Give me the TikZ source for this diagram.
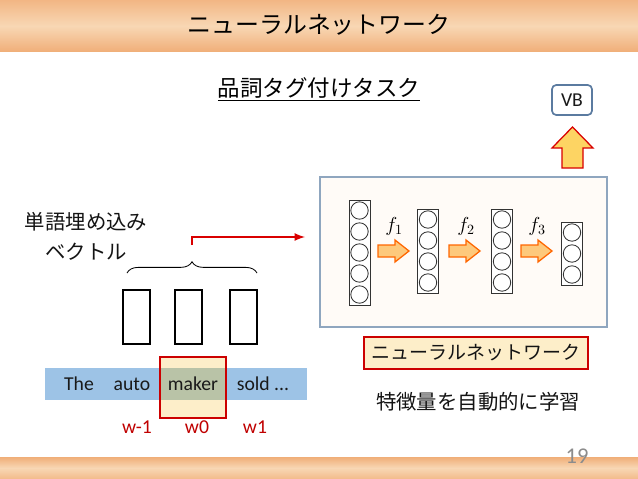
\documentclass[tikz,border=0pt]{standalone}
\usepackage{fontspec}
\setmainfont{Carlito}
\newfontfamily\jp{Noto Sans CJK JP}
\usetikzlibrary{decorations.pathreplacing}
\definecolor{bandlight}{HTML}{F8D7B4}
\definecolor{banddark}{HTML}{F0AE78}
\definecolor{barblue}{HTML}{9DC3E6}
\definecolor{wred}{HTML}{C00000}
\definecolor{boxline}{HTML}{8FA6BF}
\definecolor{vbline}{HTML}{5B7BA0}
\definecolor{arrowfill}{HTML}{FDC97C}
\definecolor{paleyellow}{HTML}{FDEEC9}
\definecolor{overlaygreen}{HTML}{B9C3A7}
\tikzset{
  jptext/.style={font=\jp\fontsize{14.5pt}{17pt}\selectfont, text=black!92},
  wordtext/.style={font=\fontsize{14pt}{16pt}\selectfont, text=black!90},
  idxtext/.style={font=\fontsize{14pt}{16pt}\selectfont, text=wred},
  fatarrow/.style={fill=arrowfill, draw=orange!80!red, line width=0.9pt, line join=miter},
  neuron/.style={draw=black!80, line width=0.6pt}
}
% a column of n neurons, top edge at y
\def\neuroncol(#1,#2,#3){\draw[neuron, fill=white] (#1-10.5,#2) rectangle (#1+10.5,#2+21*#3);
  \foreach \k in {1,...,#3} \draw[neuron] (#1,#2-10.5+21*\k) circle [radius=6.2pt];}
% fat arrow pointing right, left end at x, middle at y
\def\rightfat(#1,#2){\draw[fatarrow] (#1,#2-6) -- ++(17,0) -- ++(0,-5) -- ++(14,11) -- ++(-14,11) -- ++(0,-5) -- ++(-17,0) -- cycle;}

\begin{document}
\begin{tikzpicture}[x=0.025cm, y=-0.025cm]
		%%%%% START %%%%%
		\useasboundingbox (0, 0) rectangle (638, 479);
		\fill[white] (0, 0) rectangle (638, 479);
		
		% bands
		\shade[top color=banddark!80!bandlight, bottom color=banddark, middle color=bandlight] (0, 0) rectangle (638, 52);
		\shade[top color=banddark, bottom color=banddark!70!bandlight, middle color=bandlight] (0, 457) rectangle (638, 479);
		\node (title) at (319, 25) {\jp\fontsize{17pt}{20pt}\selectfont ニューラルネットワーク};
		\node[text=black!45, font=\fontsize{16pt}{18pt}\selectfont] (pagenum) at (577, 456) {19};
		
		\node[font=\jp\fontsize{16pt}{19pt}\selectfont, inner sep=1pt] (task) at (319, 89) {\underline{品詞タグ付けタスク}};
		
		% output
		\draw[vbline, line width=1.2pt, fill=white, rounded corners=3pt] (552, 85) rectangle (592, 115);
		\node[wordtext] (vb) at (572, 100) {VB};
		\draw[fill=arrowfill!80!yellow, draw=red!85!black, line width=0.9pt] (572.5, 127) -- (593, 148) -- (583, 148) -- (583, 168) -- (562, 168) -- (562, 148) -- (552, 148) -- cycle;
		
		% network
		\draw[boxline, line width=1.3pt, fill=orange!3] (320, 177) rectangle (607, 327);
		\neuroncol(359.5, 200, 5);
		\neuroncol(428, 209, 4);
		\neuroncol(502, 209, 4);
		\neuroncol(572, 222, 3);
		\rightfat(378, 251);
		\rightfat(449, 251);
		\rightfat(521, 251);
		\node (f1) at (394, 226) {\Large $f_1$};
		\node (f2) at (466, 226) {\Large $f_2$};
		\node (f3) at (537, 226) {\Large $f_3$};
		
		\draw[draw=red!80!black, line width=1pt, fill=paleyellow] (364, 337) rectangle (588, 369);
		\node[jptext, font=\jp\fontsize{13.5pt}{16pt}\selectfont] (nnlabel) at (476, 353) {ニューラルネットワーク};
		\node[jptext] (learn) at (478, 402) {特徴量を自動的に学習};
		
		% embeddings
		\node[jptext] (emb1) at (86, 222) {単語埋め込み};
		\node[jptext] (emb2) at (86, 252) {ベクトル};
		\draw[decorate, decoration={brace, amplitude=8pt}, line width=0.6pt] (127, 273) -- (257, 273);
		\coordinate (embtop) at (192, 245);
		\coordinate (nnin) at (305, 237);
		\draw[red!85!black, line width=1.5pt, -latex] (embtop) |- (nnin);
		
		\draw[line width=1.4pt] (123, 290) rectangle (150, 344);
		\draw[line width=1.4pt] (175, 290) rectangle (202, 344);
		\draw[line width=1.4pt] (230, 290) rectangle (257, 344);
		
		% sentence
		\fill[barblue] (45, 368) rectangle (307, 400);
		\fill[paleyellow] (160, 357) rectangle (226, 418);
		\fill[overlaygreen] (160, 368) rectangle (226, 400);
		\draw[red!80!black, line width=1.1pt] (160, 357) rectangle (226, 418);
		\node[wordtext] (the) at (79, 384) {The};
		\node[wordtext] (auto) at (132, 384) {auto};
		\node[wordtext] (maker) at (193, 384) {maker};
		\node[wordtext] (sold) at (263, 384) {sold ...};
		\node[idxtext] (wm1) at (137, 427) {w-1};
		\node[idxtext] (w0) at (197, 427) {w0};
		\node[idxtext] (w1) at (255, 427) {w1};
		%%%%% END %%%%%
\end{tikzpicture}
\end{document}
